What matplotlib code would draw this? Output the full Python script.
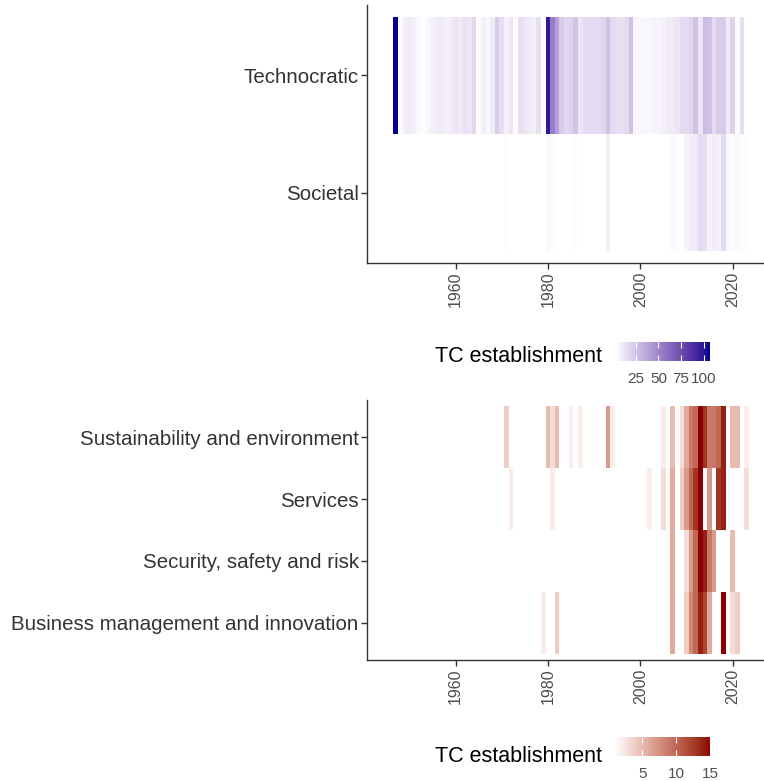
import numpy as np
import matplotlib
matplotlib.use("agg")
from matplotlib import pyplot as plt
from matplotlib.colors import ListedColormap, Normalize, to_rgb
from matplotlib.cm import ScalarMappable

plt.rcParams['font.family'] = ['Liberation Sans', 'DejaVu Sans']

# ---- data ----
years = np.arange(1947, 2024)

tech_years = list(range(1947, 2023))
tech_values = [107, 4, 8,
               10, 8, 5, 3, 5, 8, 9, 10, 8, 10,
               12, 10, 14, 12, 18, 3, 8, 5, 10, 22,
               15, 8, 12, 4, 14, 12, 9, 8, 14, 3,
               98, 55, 40, 22, 18, 20, 25, 12, 16, 16,
               16, 16, 18, 26, 16, 14, 14, 16, 26, 6,
               5, 6, 5, 7, 6, 8, 10, 10, 12, 16,
               16, 18, 26, 12, 28, 26, 16, 22, 22, 10,
               20, 4, 15]

soc_years = [1971, 1972, 1979, 1980, 1981, 1982, 1985, 1986, 1987, 1993,
             1996, 2000, 2002, 2005, 2007, 2008, 2010, 2011, 2012, 2013,
             2014, 2015, 2016, 2017, 2018, 2019, 2020, 2021, 2022, 2023]
soc_values = [4, 2, 2, 5, 4, 2, 2, 3, 2, 8,
              2, 2, 2, 2, 5, 4, 7, 10, 10, 16,
              15, 8, 9, 8, 16, 5, 4, 5, 3, 3]

sust_years = [1971, 1980, 1981, 1982, 1985, 1987, 1993, 1994, 2005, 2007,
              2009, 2010, 2011, 2012, 2013, 2014, 2015, 2016, 2017, 2018,
              2020, 2021, 2023]
sust_values = [4, 5, 3, 5, 2, 2, 7, 2, 2, 5,
               3, 6, 9, 10, 15, 13, 9, 9, 10, 14,
               5, 5, 2]

serv_years = [1972, 1981, 2001, 2002, 2005, 2007, 2009, 2010, 2011, 2012,
              2013, 2015, 2017, 2018, 2023]
serv_values = [2, 2, 1, 2, 3, 6, 4, 7, 10, 13, 15, 7, 13, 14, 3]

secu_years = [2007, 2010, 2011, 2012, 2013, 2014, 2015, 2016, 2020]
secu_values = [6, 3, 7, 10, 15, 14, 9, 7, 5]

bus_years = [1979, 1982, 2007, 2010, 2011, 2012, 2013, 2014, 2015, 2018,
             2020, 2021]
bus_values = [2, 4, 6, 4, 8, 10, 14, 12, 6, 15, 3, 4]

top_rows = ["Societal", "Technocratic"]
bottom_rows = ["Business management and innovation", "Security, safety and risk",
               "Services", "Sustainability and environment"]

x_ticks = [1960, 1980, 2000, 2020]
blue_ticks = [25, 50, 75, 100]
red_ticks = [5, 10, 15]

# ---- white -> colour gradient interpolated in Lab, like ggplot ----
M = np.array([[0.4124, 0.3576, 0.1805],
              [0.2126, 0.7152, 0.0722],
              [0.0193, 0.1192, 0.9505]])
WHITE_PT = np.array([0.95047, 1.0, 1.08883])


def srgb_to_lab(c):
    c = np.asarray(c, float)
    lin = np.where(c <= 0.04045, c / 12.92, ((c + 0.055) / 1.055) ** 2.4)
    xyz = M @ lin / WHITE_PT
    f = np.where(xyz > 0.008856, np.cbrt(xyz), 7.787 * xyz + 16 / 116)
    return np.array([116 * f[1] - 16, 500 * (f[0] - f[1]), 200 * (f[1] - f[2])])


def lab_to_srgb(lab):
    L, a, b = lab
    fy = (L + 16) / 116
    f = np.array([fy + a / 500, fy, fy - b / 200])
    xyz = np.where(f ** 3 > 0.008856, f ** 3, (f - 16 / 116) / 7.787) * WHITE_PT
    lin = np.clip(np.linalg.inv(M) @ xyz, 0, None)
    c = np.where(lin <= 0.0031308, 12.92 * lin, 1.055 * lin ** (1 / 2.4) - 0.055)
    return np.clip(c, 0, 1)


def lab_cmap(high):
    lo = srgb_to_lab([1, 1, 1])
    hi = srgb_to_lab(to_rgb(high))
    return ListedColormap([lab_to_srgb(lo + (hi - lo) * t) for t in np.linspace(0, 1, 256)])


TXT = '#4d4d4d'
W, H = 764, 781


def draw_heat(ax, rows, series, cmap, norm):
    grid = np.full((len(rows), len(years)), np.nan)
    for i, (yrs, vals) in enumerate(series):
        for y, v in zip(yrs, vals):
            grid[i, y - years[0]] = v
    xe = np.append(years - 0.5, years[-1] + 0.5)
    ye = np.arange(len(rows) + 1) + 0.5
    ax.pcolormesh(xe, ye, np.ma.masked_invalid(grid), cmap=cmap, norm=norm,
                  shading='flat', edgecolors='none')
    ax.set_xlim(1940.8, 2026.8)
    ax.set_ylim(0.4, len(rows) + 0.6)
    ax.set_yticks(np.arange(1, len(rows) + 1))
    ax.set_yticklabels(rows, fontsize=14.8, color='#333333')
    ax.set_xticks(x_ticks)
    ax.set_xticklabels([str(t) for t in x_ticks], rotation=90, fontsize=11.5, color=TXT)
    for s in ['top', 'right']:
        ax.spines[s].set_visible(False)
    for s in ['left', 'bottom']:
        ax.spines[s].set_color('#333333')
        ax.spines[s].set_linewidth(1.0)
    ax.tick_params(length=4, width=1, color='#333333', pad=2)


def draw_legend(fig, cmap, norm, ticks, bar_top, title_y):
    cax = fig.add_axes([615 / W, 1 - (bar_top + 19) / H, 95 / W, 19 / H])
    cb = fig.colorbar(ScalarMappable(norm=norm, cmap=cmap), cax=cax,
                      orientation='horizontal', ticks=ticks)
    cb.outline.set_visible(False)
    cax.tick_params(direction='in', length=4, width=0.8, color='white', top=True,
                    labelsize=11, labelcolor=TXT, pad=8)
    fig.text(602 / W, 1 - title_y / H, "TC establishment", ha='right', va='center',
             fontsize=15.5, color='black')


fig = plt.figure(figsize=(W / 100, H / 100), dpi=100)

blue = lab_cmap('#00008B')
red = lab_cmap('#8B0000')
all_blue = tech_values + soc_values
all_red = sust_values + serv_values + secu_values + bus_values
bnorm = Normalize(min(all_blue), max(all_blue))
rnorm = Normalize(min(all_red), max(all_red))

ax1 = fig.add_axes([367 / W, 1 - 263 / H, (W - 367) / W, 258 / H])
draw_heat(ax1, top_rows, [(soc_years, soc_values), (tech_years, tech_values)], blue, bnorm)

ax2 = fig.add_axes([367 / W, 1 - 660 / H, (W - 367) / W, 260 / H])
draw_heat(ax2, bottom_rows, [(bus_years, bus_values), (secu_years, secu_values),
                             (serv_years, serv_values), (sust_years, sust_values)], red, rnorm)

draw_legend(fig, blue, bnorm, blue_ticks, 342, 357)
draw_legend(fig, red, rnorm, red_ticks, 737, 757)

fig.savefig("out.png", dpi=100)
